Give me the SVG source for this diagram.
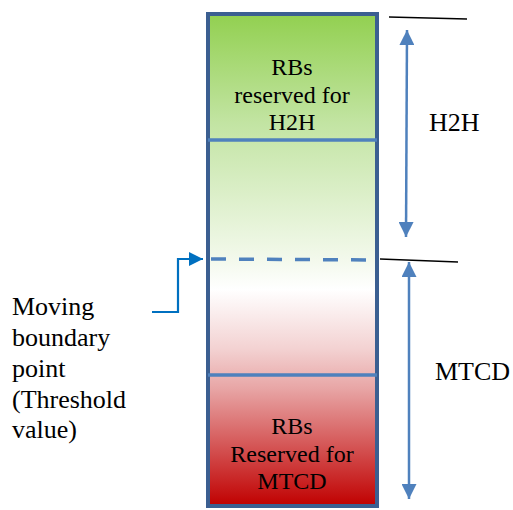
<svg xmlns="http://www.w3.org/2000/svg" width="513" height="510" viewBox="0 0 513 510">
<defs>
<linearGradient id="g" x1="0" y1="0" x2="0" y2="1">
<stop offset="0" stop-color="#92d050"/>
<stop offset="0.22" stop-color="#c2e4a2"/>
<stop offset="0.5" stop-color="#f3f9ec"/>
<stop offset="0.56" stop-color="#ffffff"/>
<stop offset="0.68" stop-color="#f3d2d2"/>
<stop offset="0.76" stop-color="#e8a6a6"/>
<stop offset="0.88" stop-color="#d45454"/>
<stop offset="1" stop-color="#c00000"/>
</linearGradient>
<marker id="ah" viewBox="0 0 10 10" refX="10" refY="5" markerWidth="6" markerHeight="6" orient="auto-start-reverse" markerUnits="strokeWidth">
<path d="M0,0 L10,5 L0,10 z" fill="#4f81bd"/>
</marker>
<marker id="ab" viewBox="0 0 10 10" refX="10" refY="5" markerWidth="6.5" markerHeight="6.5" orient="auto" markerUnits="strokeWidth">
<path d="M0,0 L10,5 L0,10 z" fill="#0070c0"/>
</marker>
<style>
.t{font-family:"Liberation Serif","Times New Roman",serif;fill:#000}
.in{font-size:24px;text-anchor:middle}
.out{font-size:26px}
.sep{stroke:#4f81bd;stroke-width:3.5}
.blk{stroke:#000;stroke-width:1.5}
.dim{stroke:#4f81bd;stroke-width:2.5;fill:none}
</style>
</defs>
<g id="bar">
<rect x="208" y="14" width="169" height="492" fill="url(#g)" stroke="#3b5f91" stroke-width="4"/>
<line class="sep" x1="208" y1="140" x2="377" y2="140"/>
<line class="sep" x1="208" y1="375" x2="377" y2="375"/>
<line x1="211" y1="259" x2="374" y2="260" stroke="#4f81bd" stroke-width="3.5" stroke-dasharray="15,13"/>
</g>
<g id="h2h-block">
<text class="t in" x="292" y="75">RBs</text>
<text class="t in" x="292" y="103">reserved for</text>
<text class="t in" x="292" y="130">H2H</text>
</g>
<g id="mtcd-block">
<text class="t in" x="292" y="434">RBs</text>
<text class="t in" x="292" y="462">Reserved for</text>
<text class="t in" x="292" y="489">MTCD</text>
</g>
<g id="h2h-label">
<text class="t out" x="429" y="131">H2H</text>
</g>
<g id="mtcd-label">
<text class="t out" x="435" y="380">MTCD</text>
</g>
<g id="boundary-label">
<text class="t out" x="12" y="315">Moving</text>
<text class="t out" x="12" y="346">boundary</text>
<text class="t out" x="12" y="377">point</text>
<text class="t out" x="12" y="408">(Threshold</text>
<text class="t out" x="12" y="438">value)</text>
</g>
<g id="connectors">
<line class="blk" x1="389" y1="17" x2="467" y2="19"/>
<line class="blk" x1="380" y1="259" x2="458" y2="262"/>
<line class="dim" x1="407" y1="30" x2="406" y2="237" marker-start="url(#ah)" marker-end="url(#ah)"/>
<line class="dim" x1="409" y1="262" x2="409" y2="499" marker-start="url(#ah)" marker-end="url(#ah)"/>
<polyline points="152,312 178,312 178,259 203,259" fill="none" stroke="#0070c0" stroke-width="2.2" marker-end="url(#ab)"/>
</g>
</svg>
